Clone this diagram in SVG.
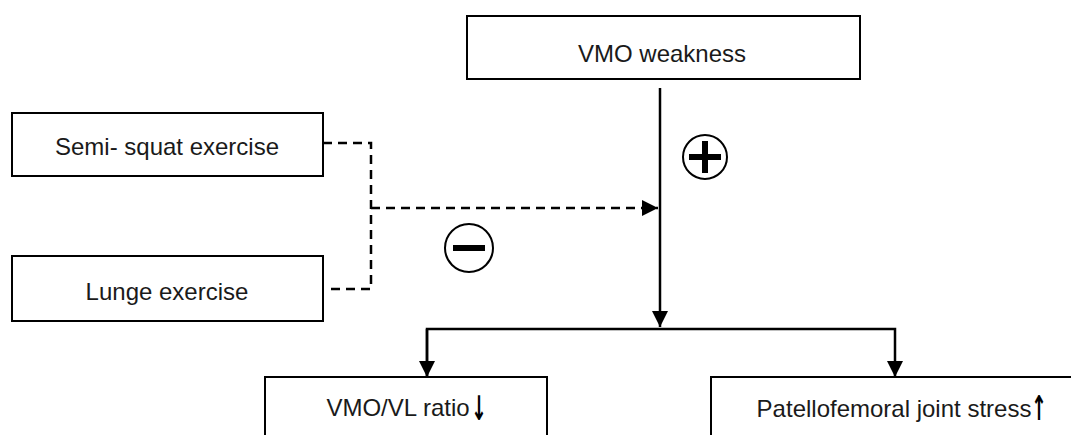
<svg xmlns="http://www.w3.org/2000/svg" width="1071" height="435" viewBox="0 0 1071 435">
<style>
.box{fill:#fff;stroke:#000;stroke-width:2}
.lbl{font-family:"Liberation Sans",Arial,sans-serif;font-size:24px;fill:#1a1a1a;text-anchor:middle}
.arr{font-family:"DejaVu Sans",sans-serif;font-weight:bold;font-size:34px;fill:#000;text-anchor:middle}
.ln{fill:none;stroke:#000;stroke-width:2.5}
.dash{fill:none;stroke:#000;stroke-width:2.5;stroke-dasharray:9 6}
.sym{fill:#fff;stroke:#000;stroke-width:2}
</style>
<defs>
<marker id="ah" markerUnits="userSpaceOnUse" markerWidth="16" markerHeight="16" viewBox="0 0 16 16" refX="16" refY="8" orient="auto">
<path d="M0,0 L16,8 L0,16 Z" fill="#000"/>
</marker>
</defs>
<g id="connectors">
<path class="ln" d="M660,88 L660,327" marker-end="url(#ah)"/>
<path class="ln" d="M427,377 L427,329 L895,329 L895,377" marker-end="url(#ah)"/>
<path class="ln" d="M427,329 L427,377" marker-end="url(#ah)"/>
<path class="dash" d="M323,143 L371,143 L371,289 L328,289"/>
<path class="dash" d="M371,208 L658,208" marker-end="url(#ah)"/>
</g>
<g id="vmo-weakness">
<rect class="box" x="467" y="16" width="393" height="63"/>
<text class="lbl" x="662" y="62">VMO weakness</text>
</g>
<g id="semi-squat">
<rect class="box" x="12" y="113" width="311" height="63"/>
<text class="lbl" x="167" y="155">Semi- squat exercise</text>
</g>
<g id="lunge">
<rect class="box" x="12" y="256" width="311" height="65"/>
<text class="lbl" x="167" y="300">Lunge exercise</text>
</g>
<g id="vmo-vl-ratio">
<rect class="box" x="265" y="377" width="282" height="70"/>
<text class="lbl" x="398" y="416">VMO/VL ratio</text>
<text class="arr" transform="translate(479,420) scale(0.55,1)">↓</text>
</g>
<g id="pf-stress">
<rect class="box" x="711" y="377" width="378" height="70"/>
<text class="lbl" x="894" y="417">Patellofemoral joint stress</text>
<text class="arr" transform="translate(1039,420) scale(0.55,1)">↑</text>
</g>
<g id="plus">
<circle class="sym" cx="705" cy="157" r="22"/>
<rect x="689" y="154" width="32" height="6" fill="#000"/>
<rect x="702" y="141" width="6" height="32" fill="#000"/>
</g>
<g id="minus">
<circle class="sym" cx="469" cy="248" r="24"/>
<rect x="453" y="245" width="32" height="6" fill="#000"/>
</g>
</svg>
